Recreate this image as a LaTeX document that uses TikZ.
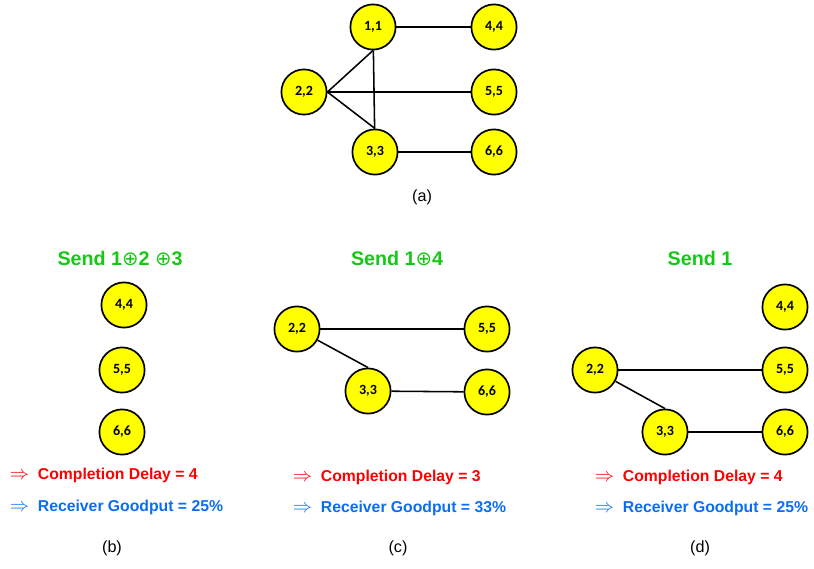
\documentclass[tikz,border=0pt]{standalone}
\usepackage{amssymb}
\usepackage{fontspec}
\setmainfont{Liberation Sans}
\newfontfamily\nodefont{Carlito}
\newfontfamily\symfont{DejaVu Sans}
\usepackage{tikz}
\usetikzlibrary{positioning}
\definecolor{nodeyellow}{RGB}{255,255,0}
\definecolor{sendgreen}{RGB}{20,200,20}
\definecolor{delayred}{RGB}{255,0,0}
\definecolor{goodblue}{RGB}{10,110,240}
\newcommand{\xor}{{\symfont\mdseries ⊕}}
\newcommand{\implarrow}{\scalebox{1.25}{$\Rightarrow$}}
\tikzstyle{pkt} = [circle, draw=black, line width=1.2pt, fill=nodeyellow, minimum size=1.13cm, inner sep=0pt, font=\nodefont\bfseries\fontsize{10}{11}\selectfont]
\tikzstyle{edge} = [line width=1.1pt]
\tikzstyle{title} = [font=\bfseries\fontsize{14}{16}\selectfont, text=sendgreen]
\tikzstyle{delay} = [anchor=west, font=\bfseries\fontsize{11.2}{13}\selectfont, text=delayred]
\tikzstyle{goodput} = [anchor=west, font=\bfseries\fontsize{11.2}{13}\selectfont, text=goodblue]
\tikzstyle{caption} = [font=\fontsize{11.5}{13}\selectfont]

\begin{document}
\begin{tikzpicture}[x=0.025cm, y=-0.025cm]
\useasboundingbox (0,0) rectangle (814,568);

% (a) full graph
\node (a11) [pkt] at (373,27) {1,1};
\node (a44) [pkt] at (494,27) {4,4};
\node (a22) [pkt] at (304,92) {2,2};
\node (a55) [pkt] at (494,92) {5,5};
\node (a33) [pkt] at (375,152) {3,3};
\node (a66) [pkt] at (494,152) {6,6};
\node (capa) [caption] at (422,197) {(a)};

\draw [edge] (a11) -- (a44);
\draw [edge] (a22.east) -- (a11.south);
\draw [edge] (a22.east) -- (a33.north);
\draw [edge] (a22) -- (a55);
\draw [edge] (a11) -- (a33);
\draw [edge] (a33) -- (a66);

% (b)
\node (titleb) [title] at (120,258) {Send 1\xor2 \xor3};
\node (b44) [pkt] at (124,305) {4,4};
\node (b55) [pkt] at (122,370) {5,5};
\node (b66) [pkt] at (122,432) {6,6};
\node (delb) [delay] at (5,475) {\implarrow\ \ Completion Delay = 4};
\node (goodb) [goodput] at (5,507) {\implarrow\ \ Receiver Goodput = 25\%};
\node (capb) [caption] at (112,548) {(b)};

% (c)
\node (titlec) [title] at (397,258) {Send 1\xor4};
\node (c22) [pkt] at (297,329) {2,2};
\node (c55) [pkt] at (487,329) {5,5};
\node (c33) [pkt] at (368,391) {3,3};
\node (c66) [pkt] at (487,392) {6,6};
\node (delc) [delay] at (288,477) {\implarrow\ \ Completion Delay = 3};
\node (goodc) [goodput] at (288,508) {\implarrow\ \ Receiver Goodput = 33\%};
\node (capc) [caption] at (398,548) {(c)};

\draw [edge] (c22) -- (c55);
\draw [edge] (c22) -- (c33.north);
\draw [edge] (c33) -- (c66);

% (d)
\node (titled) [title] at (700,258) {Send 1};
\node (d44) [pkt] at (785,307) {4,4};
\node (d22) [pkt] at (595,370) {2,2};
\node (d55) [pkt] at (785,370) {5,5};
\node (d33) [pkt] at (665,432) {3,3};
\node (d66) [pkt] at (785,432) {6,6};
\node (deld) [delay] at (590,477) {\implarrow\ \ Completion Delay = 4};
\node (goodd) [goodput] at (590,508) {\implarrow\ \ Receiver Goodput = 25\%};
\node (capd) [caption] at (700,548) {(d)};

\draw [edge] (d22) -- (d55);
\draw [edge] (d22) -- (d33.north);
\draw [edge] (d33) -- (d66);

\end{tikzpicture}
\end{document}
